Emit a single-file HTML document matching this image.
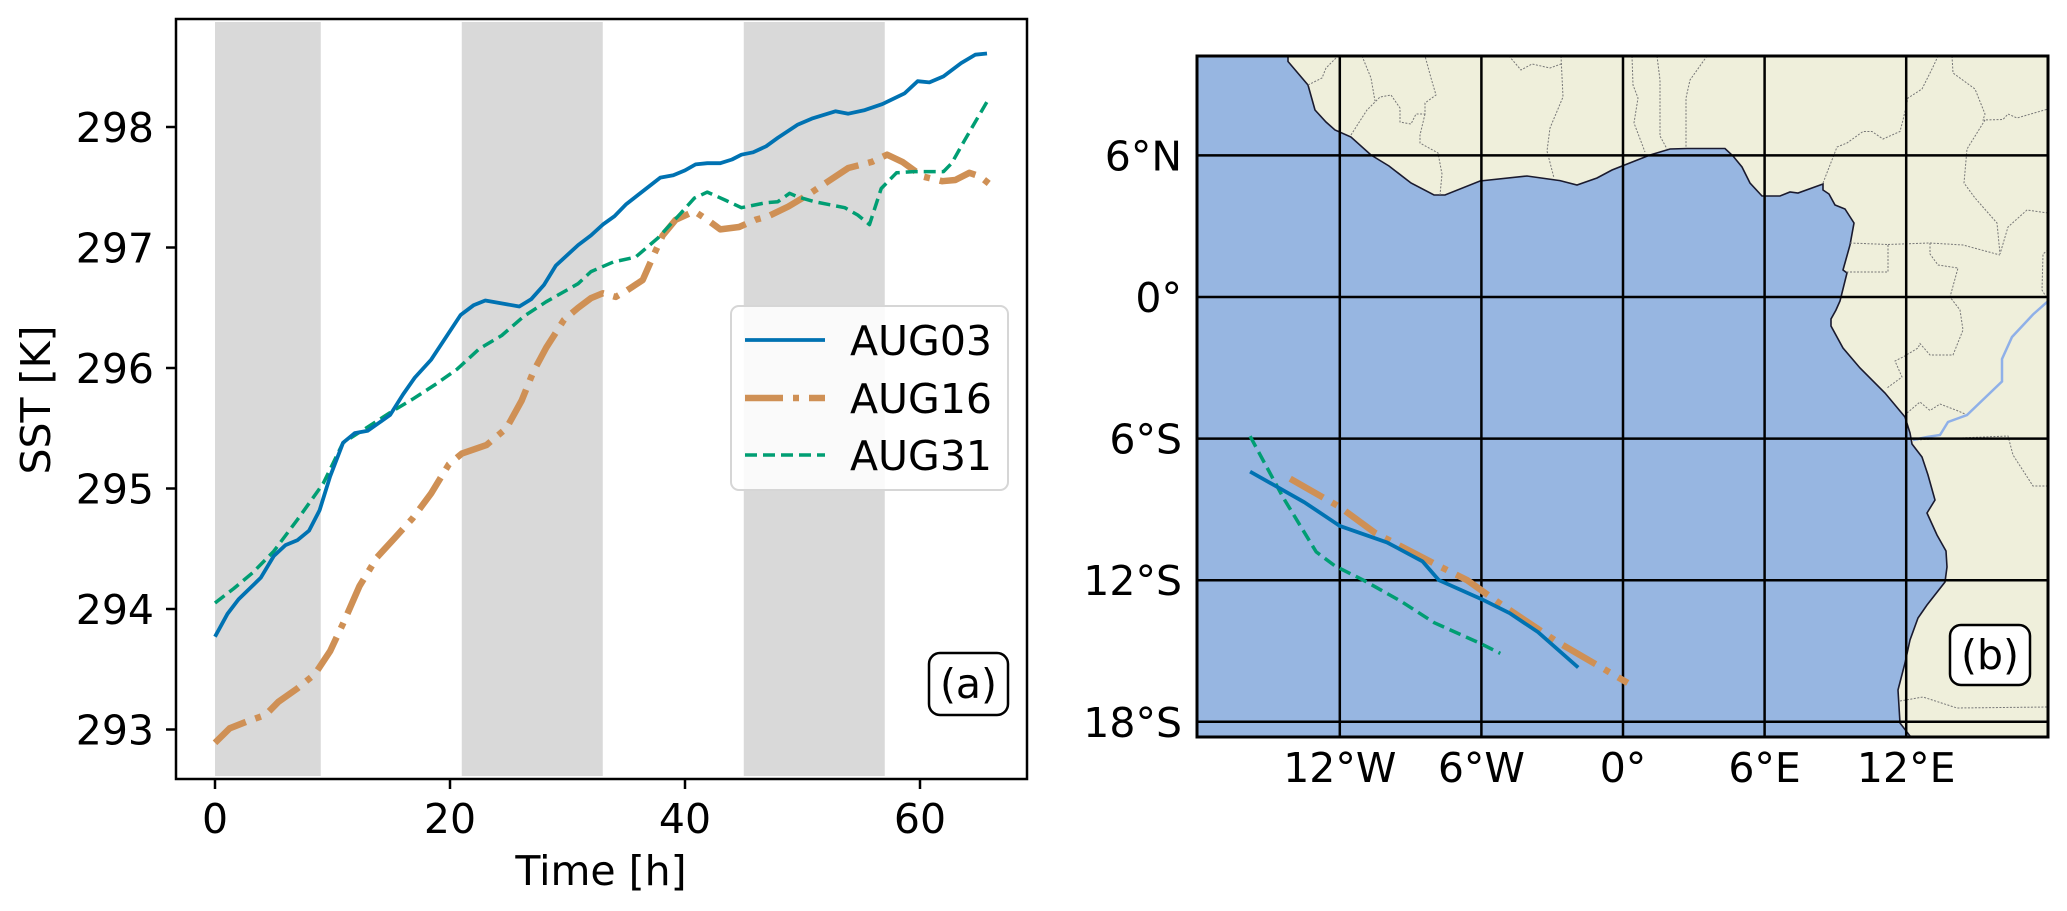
<!DOCTYPE html>
<html><head><meta charset="utf-8">
<style>
html,body{margin:0;padding:0;background:#fff;}
svg{display:block;font-family:"DejaVu Sans","Liberation Sans",sans-serif;}
</style></head>
<body>
<svg id="fig" width="2067" height="911" viewBox="0 0 2067 911" xmlns="http://www.w3.org/2000/svg">
  <g id="left"></g>
  <g id="right"></g>
</svg>
<script>
// ---------- Panel (a) data ----------
const shadeStarts = [0, 21, 45];
const shadeEnds = [9, 33, 57];
const xTicks = [0, 20, 40, 60];
const yTicks = [293, 294, 295, 296, 297, 298];
const aug03T = [0,1.06,2,3.9,5,6,7,8,8.9,9.8,10.9,11.9,13,14.9,16,17,18.4,20.9,22,23,25.9,26.9,28,29,30.9,32,33,34,35,37.9,39,40,40.9,41.9,43,44,44.8,45.8,46.9,47.9,49.6,50.8,52.8,53.9,55.3,56.8,58.7,59.8,60.8,62,63.5,64.7,65.7];
const aug03V = [293.77,293.96,294.08,294.26,294.44,294.53,294.57,294.65,294.82,295.1,295.38,295.46,295.48,295.61,295.78,295.92,296.07,296.44,296.52,296.56,296.51,296.57,296.69,296.85,297.02,297.1,297.19,297.26,297.36,297.58,297.6,297.64,297.69,297.7,297.7,297.73,297.77,297.79,297.84,297.91,298.02,298.07,298.13,298.11,298.14,298.19,298.28,298.38,298.37,298.42,298.53,298.6,298.61];
const aug16T = [0,1.25,2.8,4.3,5.4,7,8.5,9.8,10.9,12.3,13.8,15.3,16.8,18.4,19.9,21,23.1,24.8,26.1,27.1,28.2,29.7,30.9,32,33,34.1,35,36.4,37.3,38.1,39.2,40.8,41.9,43,44.6,46,47.1,48.8,50.5,52.2,53.9,55.9,57.2,58.5,60.2,61.9,63,64.2,65.1,66];
const aug16V = [292.89,293.01,293.07,293.12,293.23,293.34,293.46,293.65,293.88,294.19,294.43,294.59,294.75,294.96,295.2,295.29,295.36,295.5,295.73,295.97,296.17,296.4,296.5,296.58,296.62,296.59,296.64,296.73,296.93,297.1,297.23,297.3,297.23,297.15,297.17,297.23,297.26,297.34,297.44,297.55,297.66,297.71,297.77,297.71,297.59,297.55,297.56,297.62,297.59,297.52];
const aug31T = [0,1.6,3.2,5,7,9.2,10.9,13,14.9,16.8,18.7,20.6,22.5,24.4,26.3,28.2,30.9,32,33.9,35.8,37.7,39.6,40.8,41.9,43.5,44.8,46.8,47.9,48.9,49.6,51,53.6,54.7,55.7,56.7,58,59.5,62,62.7,63.8,65.7];
const aug31V = [294.05,294.17,294.3,294.48,294.74,295.04,295.38,295.51,295.63,295.74,295.86,295.99,296.16,296.27,296.43,296.55,296.7,296.8,296.88,296.92,297.08,297.28,297.41,297.46,297.39,297.33,297.37,297.38,297.45,297.42,297.38,297.33,297.27,297.19,297.49,297.62,297.63,297.63,297.70,297.89,298.21];

// ---------- Panel (b) data ----------
const lonTicks = [-12, -6, 0, 6, 12];
const lonLabels = ["12°W", "6°W", "0°", "6°E", "12°E"];
const latTicks = [6, 0, -6, -12, -18];
const latLabels = ["6°N", "0°", "6°S", "12°S", "18°S"];
const trackBlueLon = [-15.8,-13.5,-12.0,-10.0,-8.5,-7.8,-6.0,-4.8,-3.6,-1.9];
const trackBlueLat = [-7.4,-8.7,-9.7,-10.4,-11.2,-12.0,-12.8,-13.4,-14.2,-15.7];
const trackOrangeLon = [-14.1,-12.0,-10.5,-7.8,-6.6,-5.2,-2.8,0.2];
const trackOrangeLat = [-7.7,-8.9,-10.0,-11.4,-12.0,-13.0,-14.6,-16.35];
const trackGreenLon = [-15.8,-14.4,-13.0,-12.2,-11.0,-9.4,-8.0,-6.0,-5.2];
const trackGreenLat = [-5.9,-8.5,-10.8,-11.4,-12.0,-12.9,-13.8,-14.7,-15.1];

const NS = "http://www.w3.org/2000/svg";
function mk(tag, attrs, parent){ const e=document.createElementNS(NS,tag); for(const k in attrs) e.setAttribute(k,attrs[k]); parent.appendChild(e); return e; }

// ===== Panel (a) =====
const L = document.getElementById('left');
const AX = {l:176, r:1027, t:19, b:779};
const xs = t => 215 + t*11.75;
const ys = v => 127 + (298 - v)*120.5;
const FS = 41;

let bg = mk('rect',{x:AX.l,y:AX.t,width:AX.r-AX.l,height:AX.b-AX.t,fill:'#fff'},L);


for(let i=0;i<shadeStarts.length;i++){
  const r = mk('rect',{x:xs(shadeStarts[i]),y:AX.t+3,width:xs(shadeEnds[i])-xs(shadeStarts[i]),height:AX.b-AX.t-6,fill:'#d9d9d9'},L);
  
  
}
function series(T,V,color,w,dash,name){
  const d = T.map((t,i)=>(i?'L':'M')+xs(t).toFixed(1)+','+ys(V[i]).toFixed(1)).join(' ');
  const p = mk('path',{d:d,fill:'none',stroke:color,'stroke-width':w,'stroke-dasharray':dash,'stroke-linejoin':'round'},L);
  
  
}
series(aug16T,aug16V,'#cf9055',6.5,'38 10 6 10','series-aug16');
series(aug31T,aug31V,'#009e73',3.5,'12 6','series-aug31');
series(aug03T,aug03V,'#0072b2',3.8,'none','series-aug03');

let fr = mk('rect',{x:AX.l,y:AX.t,width:AX.r-AX.l,height:AX.b-AX.t,fill:'none',stroke:'#000','stroke-width':2.5},L);



xTicks.forEach(t=>{
  const tk = mk('line',{x1:xs(t),x2:xs(t),y1:AX.b,y2:AX.b+10,stroke:'#000','stroke-width':2.5},L);
  
  
  const tx = mk('text',{x:xs(t),y:AX.b+54,'font-size':FS,'text-anchor':'middle',fill:'#000'},L);
  tx.textContent = t;
  
  
});
yTicks.forEach(v=>{
  const tk = mk('line',{x1:AX.l-10,x2:AX.l,y1:ys(v),y2:ys(v),stroke:'#000','stroke-width':2.5},L);
  
  
  const tx = mk('text',{x:AX.l-22,y:ys(v)+15,'font-size':FS,'text-anchor':'end',fill:'#000'},L);
  tx.textContent = v;
  
  
});
let xl = mk('text',{x:601,y:885,'font-size':FS,'text-anchor':'middle',fill:'#000'},L);
xl.textContent='Time [h]';


let yl = mk('text',{x:0,y:0,'font-size':FS,'text-anchor':'middle',fill:'#000',transform:'translate(50,400) rotate(-90)'},L);
yl.textContent='SST [K]';



// legend
const lg = mk('g',{},L);


mk('rect',{x:731,y:306,width:277,height:184,rx:8,fill:'#fff','fill-opacity':0.85,stroke:'#d6d6d6','stroke-width':2},lg);
const legNames=['AUG03','AUG16','AUG31'], legCol=['#0072b2','#cf9055','#009e73'], legW=[3.8,6.5,3.5], legDash=['none','38 10 6 10','12 6'], legY=[340,398,455];
for(let i=0;i<3;i++){
  const le = mk('g',{},lg);
  
  
  mk('line',{x1:745,x2:825,y1:legY[i],y2:legY[i],stroke:legCol[i],'stroke-width':legW[i],'stroke-dasharray':legDash[i]},le);
  const t = mk('text',{x:850,y:legY[i]+15,'font-size':FS,fill:'#000'},le);
  t.textContent = legNames[i];
}
const pa = mk('g',{},L);


mk('rect',{x:929,y:653,width:79,height:62,rx:11,fill:'#fff',stroke:'#000','stroke-width':2.5},pa);
const pat = mk('text',{x:968.5,y:698,'font-size':FS,'text-anchor':'middle',fill:'#000'},pa);
pat.textContent='(a)';

// ===== Panel (b) =====
const R = document.getElementById('right');
const MX = {l:1197, r:2048, t:56, b:737};
const lx = lon => 1623 + lon*23.6;
const ly = lat => 297 - lat*23.6;
const cp = mk('clipPath',{id:'mapclip'},R);
mk('rect',{x:MX.l,y:MX.t,width:MX.r-MX.l,height:MX.b-MX.t},cp);
const mg = mk('g',{'clip-path':'url(#mapclip)'},R);
let ocean = mk('rect',{x:MX.l,y:MX.t,width:MX.r-MX.l,height:MX.b-MX.t,fill:'#97b6e1'},mg);


const coast = "M1288,50 L1288,61.5 1308,85 1315,110 1326,122 1335,130 1351,137 1371,155 1389,166 1411,183 1434,195 1445,195 1480,181 1527,176 1560,180.6 1577,185 1597,178 1612,170 1650,155 1670,149 1687,148.5 1725,148.5 1733,156 1742,167 1750,183 1762,196 1780,196 1790,192 1798,193 1823,184 1823,190 1829,194 1835,205 1845,209 1854,223 1850,245 1843,270 1847,273 1840,301 1836,310 1831,319 1831,326 1843,348 1860,368 1885,393 1905,417 1910,433 1912,444 1922,457 1928,475 1935,500 1927,513 1937,535 1946,551 1947,567 1945,582 1927,605 1918,618 1910,640 1905,663 1898,690 1900,723 1910,736 1912,745 2060,745 2060,50 Z";
let land = mk('path',{d:coast,fill:'#efefdb',stroke:'#1a1a2e','stroke-width':1.6},mg);


const borders = [
"M1632,56 1633,85 1638,98 1634,123 1645,152","M1657,56 1660,80 1660,136 1667,149","M1707,56 1690,80 1686,98 1686,147",
"M1823,183 1837,147 1847,143 1863,131.5 1872,131.5 1883,139 1900,131.5 1903,120 1908,98 1922,89 1933,67 1938,56",
"M1952,56 1953,73 1975,89 1985,114 1983,120 2003,119.5 2008,114 2017,118 2048,109",
"M1985,120 1967,149 1964,183 1975,198 1997,223 2000,254 2008,227 2027,210 2048,213",
"M1850,243 1888,244.5 1888,272 1845,272","M1888,244.5 1930,243 1963,245 2000,255",
"M1930,243 1930,254 1938,265 1958,268 1950,297 1960,310 1963,330 1953,355 1930,355 1920,343.5 1918,348 1903,357 1895,361 1902,377 1887,388",
"M1907,413 1920,402 1930,410.5 1940,404 1957,410.5 1965,414","M1913,440 2008,436 2013,455 2033,486 2048,486",
"M1900,701 1923,697 1957,708 2048,707","M2048,250 2043,254 2042,290 2048,300",
"M1308,85 1322,78 1326,68 1338,56","M1351,135 1358,124 1367,110 1380,97 1391,95 1400,108 1400,122 1411,124 1416,114 1425,114 1425,103 1436,95 1431,78 1425,56",
"M1362,56 1371,78 1375,101","M1425,114 1420,135 1420,143 1438,153 1442,174 1440,195",
"M1509,56 1521,70 1532,64 1550,68 1561,64","M1561,56 1563,97 1550,128 1547,151 1554,178"];
borders.forEach(b=>{
  const p = mk('path',{d:b,fill:'none',stroke:'#777','stroke-width':1,'stroke-dasharray':'2 1.5'},mg);
  
  
});
let river = mk('path',{d:"M2052,298 2046,303 2033,314.5 2012,337 2002,359 2002,381.5 1967,415 1948,422 1940,435 1927,437 1913,440",fill:'none',stroke:'#8fb0e8','stroke-width':2.5},mg);



lonTicks.forEach((lon,i)=>{
  const g = mk('line',{x1:lx(lon),x2:lx(lon),y1:MX.t,y2:MX.b,stroke:'#000','stroke-width':2.5},mg);
  
  
  const t = mk('text',{x:lx(lon),y:782,'font-size':FS,'text-anchor':'middle',fill:'#000'},R);
  t.textContent = lonLabels[i];
  
  
});
latTicks.forEach((lat,i)=>{
  const g = mk('line',{x1:MX.l,x2:MX.r,y1:ly(lat),y2:ly(lat),stroke:'#000','stroke-width':2.5},mg);
  
  
  const t = mk('text',{x:1182,y:ly(lat)+15,'font-size':FS,'text-anchor':'end',fill:'#000'},R);
  t.textContent = latLabels[i];
  
  
});
function track(LO,LA,color,w,dash,name){
  const d = LO.map((lo,i)=>(i?'L':'M')+lx(lo).toFixed(1)+','+ly(LA[i]).toFixed(1)).join(' ');
  const p = mk('path',{d:d,fill:'none',stroke:color,'stroke-width':w,'stroke-dasharray':dash,'stroke-linejoin':'round'},mg);
  
  
}
track(trackGreenLon,trackGreenLat,'#009e73',3.5,'12 6','track-aug31');
track(trackOrangeLon,trackOrangeLat,'#cf9055',6.5,'38 10 6 10','track-aug16');
track(trackBlueLon,trackBlueLat,'#0072b2',3.8,'none','track-aug03');

let mf = mk('rect',{x:MX.l,y:MX.t,width:MX.r-MX.l,height:MX.b-MX.t,fill:'none',stroke:'#000','stroke-width':3},R);


const pb = mk('g',{},R);


mk('rect',{x:1950,y:625,width:80,height:60,rx:11,fill:'#fff',stroke:'#000','stroke-width':2.5},pb);
const pbt = mk('text',{x:1990,y:669,'font-size':FS,'text-anchor':'middle',fill:'#000'},pb);
pbt.textContent='(b)';
</script>
</body></html>
